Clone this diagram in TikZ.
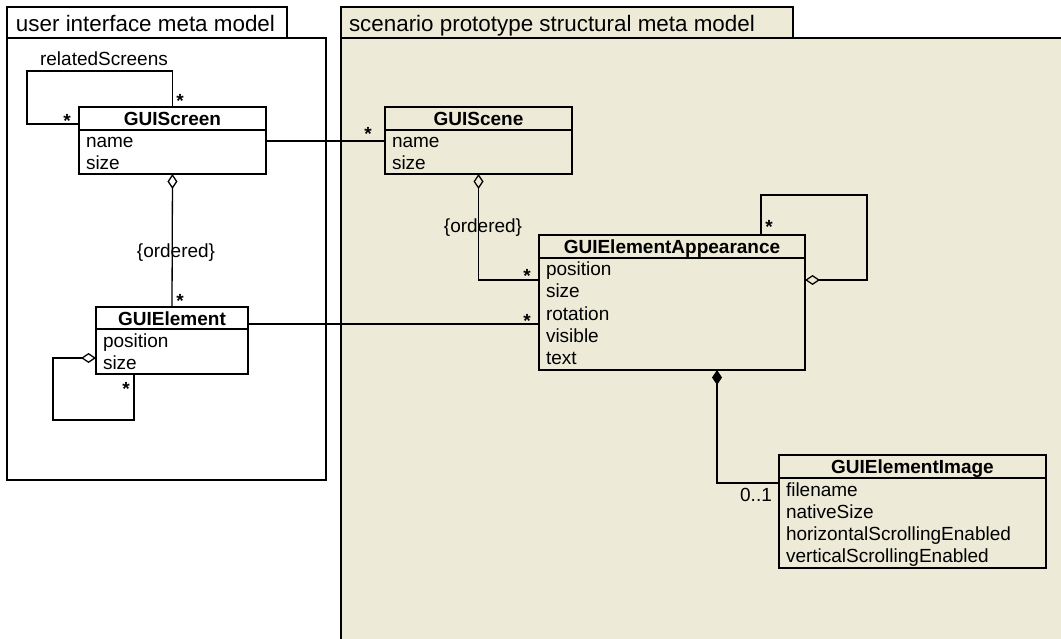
\documentclass[tikz,border=0pt]{standalone}
\usepackage{fontspec}
\setmainfont{Liberation Sans}
\usetikzlibrary{arrows.meta,calc}
\definecolor{pkgfill}{RGB}{237,235,216}

% attribute rows of a class box, one node per row
\newcommand\classattrs[2]{%
  \foreach \a [count=\i from 0] in {#2}
    \node[attr] (#1-a\i) at ($(#1.north west)+(7,41+22*\i)$) {\a};%
}

\begin{document}
\begin{tikzpicture}[x=1pt,y=-1pt,
  every node/.style={inner sep=0pt, outer sep=0pt},
  pkgline/.style={draw=black, line width=1.4pt},
  pkgtitle/.style={anchor=base west, font=\fontsize{22.4}{26}\selectfont},
  umlclass/.style={draw=black, line width=1.5pt, anchor=north west},
  classtitle/.style={anchor=base, font=\fontsize{19}{22}\selectfont\bfseries},
  attr/.style={anchor=base west, font=\fontsize{19}{22}\selectfont},
  lbl/.style={anchor=base, font=\fontsize{19}{22}\selectfont},
  mult/.style={anchor=base, font=\fontsize{19}{22}\selectfont\bfseries},
  assoc/.style={draw=black, line width=1.3pt},
  aggr/.style={assoc, {Diamond[open,length=15pt,width=10pt,line width=1.3pt]}-},
  comp/.style={assoc, {Diamond[length=15pt,width=10pt]}-}]

\useasboundingbox (0,0) rectangle (1061,639);

% package: user interface meta model
\path[pkgline, fill=white] (7,7) rectangle (287,38);
\path[pkgline, fill=white] (7,38) rectangle (326,480);
\node[pkgtitle] (uititle) at (16,31.5) {user interface meta model};

% package: scenario prototype structural meta model
\path[pkgline, fill=pkgfill] (341,7) rectangle (793,38);
\fill[pkgfill] (341,38) rectangle (1061,639);
\draw[pkgline] (341,639) -- (341,38) -- (1061,38);
\node[pkgtitle] (sptitle) at (349,31.5) {scenario prototype structural meta model};

% classes
\node[umlclass, minimum width=187pt, minimum height=67pt] (scr) at (79,107) {};
\draw[line width=1.5pt] ($(scr.north west)+(0,23)$) -- ($(scr.north east)+(0,23)$);
\node[classtitle] (scr-t) at ($(scr.north)+(0,18.5)$) {GUIScreen};
\classattrs{scr}{name,size}

\node[umlclass, minimum width=187pt, minimum height=67pt] (scene) at (385,107) {};
\draw[line width=1.5pt] ($(scene.north west)+(0,23)$) -- ($(scene.north east)+(0,23)$);
\node[classtitle] (scene-t) at ($(scene.north)+(0,18.5)$) {GUIScene};
\classattrs{scene}{name,size}

\node[umlclass, minimum width=152pt, minimum height=67pt] (elem) at (96,307) {};
\draw[line width=1.5pt] ($(elem.north west)+(0,22)$) -- ($(elem.north east)+(0,22)$);
\node[classtitle] (elem-t) at ($(elem.north)+(0,18)$) {GUIElement};
\classattrs{elem}{position,size}

\node[umlclass, minimum width=266pt, minimum height=135pt] (app) at (539,235) {};
\draw[line width=1.5pt] ($(app.north west)+(0,23)$) -- ($(app.north east)+(0,23)$);
\node[classtitle] (app-t) at ($(app.north)+(0,18.5)$) {GUIElementAppearance};
\classattrs{app}{position,size,rotation,visible,text}

\node[umlclass, minimum width=267pt, minimum height=113pt] (img) at (779,455) {};
\draw[line width=1.5pt] ($(img.north west)+(0,23)$) -- ($(img.north east)+(0,23)$);
\node[classtitle] (img-t) at ($(img.north)+(0,18.5)$) {GUIElementImage};
\classattrs{img}{filename,nativeSize,horizontalScrollingEnabled,verticalScrollingEnabled}

% bend points of the self associations
\coordinate (rsbend) at (27,71);
\coordinate (elbend) at (53,420);
\coordinate (apbend) at (867,195);

% GUIScreen relatedScreens
\draw[assoc] ($(scr.north west)+(0,17)$) -| (rsbend) -| (scr.north);
\node[lbl] (rs-l) at (104,66) {relatedScreens};
\node[mult] (rs-m1) at (67,127.5) {*};
\node[mult] (rs-m2) at (180,107.5) {*};

% GUIScreen -- GUIScene
\draw[assoc] ($(scr.north east)+(0,34)$) -- ($(scene.north west)+(0,34)$);
\node[mult] (ss-m) at (368,140.5) {*};

% GUIScreen <>-- GUIElement
\draw[aggr] (scr.south) -- (elem.north);
\node[lbl] (se-l) at (176,258) {\{ordered\}};
\node[mult] (se-m) at (180,307.5) {*};

% GUIElement self aggregation
\draw[aggr] ($(elem.north west)+(0,51)$) -| (elbend) -| ($(elem.south west)+(38,0)$);
\node[mult] (ee-m) at (126,395.5) {*};

% GUIElement -- GUIElementAppearance
\draw[assoc] ($(elem.north east)+(0,17)$) -- ($(app.north west)+(0,89)$);
\node[mult] (ea-m) at (527,327.5) {*};

% GUIScene <>-- GUIElementAppearance
\draw[aggr] (scene.south) |- ($(app.north west)+(0,45)$);
\node[lbl] (sa-l) at (483,233) {\{ordered\}};
\node[mult] (sa-m) at (527,282.5) {*};

% GUIElementAppearance self aggregation
\draw[aggr] ($(app.north east)+(0,45)$) -| (apbend) -| ($(app.north west)+(222,0)$);
\node[mult] (aa-m) at (769,233.5) {*};

% GUIElementAppearance <*>-- GUIElementImage
\draw[comp] ($(app.south west)+(178,0)$) |- ($(img.north west)+(0,28)$);
\node[lbl] (ai-m) at (756,501) {0..1};

\end{tikzpicture}
\end{document}
